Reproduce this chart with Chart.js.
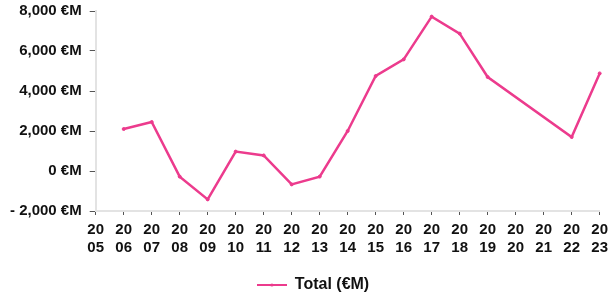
<!DOCTYPE html>
<html>
<head>
<meta charset="utf-8">
<script src="https://cdn.jsdelivr.net/npm/chart.js@4"></script>
<style>
  html, body { margin: 0; padding: 0; background: #fff; }
  #wrap { width: 614px; height: 297px; position: relative; }
</style>
</head>
<body>
<div id="wrap"><canvas id="c"></canvas></div>
<script>
const years = ['2005','2006','2007','2008','2009','2010','2011','2012','2013','2014','2015','2016','2017','2018','2019','2020','2021','2022','2023'];
const totalValues = [null, 2100, 2450, -280, -1420, 970, 780, -670, -280, 2000, 4750, 5580, 7720, 6870, 4700, null, null, 1700, 4880];
const seriesName = 'Total (€M)';
const yTicks = { min: -2000, max: 8000, step: 2000 };

const pink = '#EC3B8D';
const font = { family: '"Liberation Sans", Arial, sans-serif', size: 15, weight: 'bold' };
const legendFont = { family: '"Liberation Sans", Arial, sans-serif', size: 16, weight: 'bold' };

function fmt(v) {
  const s = Math.abs(v).toLocaleString('en-US') + ' €M';
  return v < 0 ? '- ' + s : s;
}

// legend sample: line with a small marker
const sample = document.createElement('canvas');
sample.width = 30; sample.height = 6;
(function () {
  const g = sample.getContext('2d');
  g.strokeStyle = pink; g.lineWidth = 2;
  g.beginPath(); g.moveTo(0, 3); g.lineTo(30, 3); g.stroke();
  g.fillStyle = pink; g.beginPath(); g.arc(15, 3, 1.6, 0, Math.PI * 2); g.fill();
})();

const shiftLegend = {
  id: 'shiftLegend',
  afterLayout(chart) {
    if (chart.legend) { chart.legend.left += 9; chart.legend.right += 9; }
  }
};

new Chart(document.getElementById('c'), {
  type: 'line',
  data: {
    labels: years.map(y => [y.slice(0, 2), y.slice(2)]),
    datasets: [{
      label: seriesName,
      data: totalValues,
      borderColor: pink,
      backgroundColor: pink,
      borderWidth: 2.5,
      pointRadius: 1.5,
      pointHoverRadius: 1.5,
      pointBorderWidth: 1,
      spanGaps: true,
      tension: 0
    }]
  },
  plugins: [shiftLegend],
  options: {
    responsive: true,
    maintainAspectRatio: false,
    animation: false,
    layout: { padding: { top: 11, right: 8, left: 2, bottom: -6 } },
    plugins: {
      legend: {
        position: 'bottom',
        labels: {
          color: '#111',
          font: legendFont,
          usePointStyle: true,
          pointStyle: sample,
          pointStyleWidth: 30,
          boxWidth: 30,
          boxHeight: 15,
          padding: 1
        }
      },
      tooltip: { enabled: false }
    },
    scales: {
      x: {
        offset: false,
        afterFit: s => { s.height += 13; },
        grid: { display: true, drawOnChartArea: false, drawTicks: true, tickLength: 4, color: '#555' },
        border: { display: true, color: '#e3e3e3', width: 2 },
        ticks: { color: '#111', font: font, padding: 6, maxRotation: 0, autoSkip: false }
      },
      y: {
        min: yTicks.min,
        max: yTicks.max,
        afterFit: s => { s.paddingTop = 0; },
        grid: { display: true, drawOnChartArea: false, drawTicks: true, tickLength: 6, color: '#555' },
        border: { display: true, color: '#e3e3e3', width: 2 },
        ticks: { stepSize: yTicks.step, color: '#111', font: font, padding: 8, callback: v => fmt(v) }
      }
    }
  }
});
</script>
</body>
</html>
